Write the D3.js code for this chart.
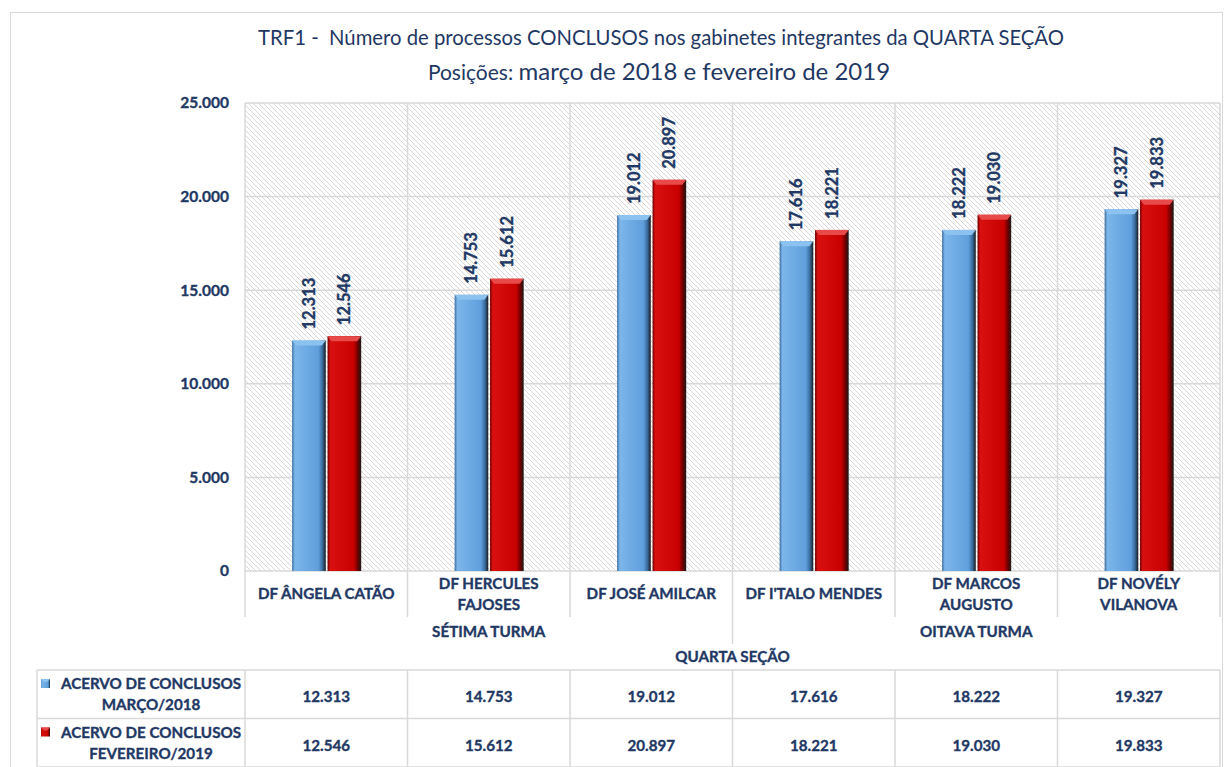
<!DOCTYPE html>
<html>
<head>
<meta charset="utf-8">
<script src="https://cdn.jsdelivr.net/npm/d3@7"></script>
<style>
  html, body { margin: 0; padding: 0; background: #fff; }
  svg { display: block; font-family: Lato, "Open Sans", sans-serif; }
  .bold { font-weight: 700; stroke-width: 0.35px; paint-order: stroke; }
</style>
</head>
<body>
<svg id="chart" width="1224" height="767"></svg>
<script>
// Gabinetes (rótulos do eixo em linhas)
const categories = ["DF ÂNGELA CATÃO", "DF HERCULES FAJOSES", "DF JOSÉ AMILCAR", "DF I'TALO MENDES", "DF MARCOS AUGUSTO", "DF NOVÉLY VILANOVA"];
const categoryLines = [["DF ÂNGELA CATÃO"], ["DF HERCULES", "FAJOSES"], ["DF JOSÉ AMILCAR"], ["DF I'TALO MENDES"], ["DF MARCOS", "AUGUSTO"], ["DF NOVÉLY", "VILANOVA"]];
const turmas = ["SÉTIMA TURMA", "OITAVA TURMA"];
const turmaSize = [3, 3];
const secao = "QUARTA SEÇÃO";

const seriesNames = ["ACERVO DE CONCLUSOS MARÇO/2018", "ACERVO DE CONCLUSOS FEVEREIRO/2019"];
const seriesLines = [["ACERVO DE CONCLUSOS", "MARÇO/2018"], ["ACERVO DE CONCLUSOS", "FEVEREIRO/2019"]];
const marco2018 = [12313, 14753, 19012, 17616, 18222, 19327];
const fevereiro2019 = [12546, 15612, 20897, 18221, 19030, 19833];
const yTicks = [0, 5000, 10000, 15000, 20000, 25000];

const locale = d3.formatLocale({ decimal: ",", thousands: ".", grouping: [3], currency: ["R$", ""] });
const fmt = locale.format(",d");

const navy = "#1f3864";
const gridColor = "#d9d9d9";

const svg = d3.select("#chart");
const defs = svg.append("defs");

// Hachura diagonal do fundo da área de plotagem
const hatch = defs.append("pattern")
  .attr("id", "hatch").attr("patternUnits", "userSpaceOnUse")
  .attr("width", 5).attr("height", 5);
hatch.append("rect").attr("width", 5).attr("height", 5).attr("fill", "#fff");
hatch.append("path").attr("d", "M0,0L5,5M-1,4L1,6M4,-1L6,1")
  .attr("stroke", "#d4d4d4").attr("stroke-width", 0.9);

// Gradientes para o efeito de bisel das barras
const palettes = [
  { id: "gBlue", light: "#7cb6ea", mid: "#5f9fdc", dark: "#3a6c9e", top: "#8cc2f0" },
  { id: "gRed", light: "#d81010", mid: "#c80000", dark: "#6e0000", top: "#e84a4a" }
];
palettes.forEach(p => {
  const g = defs.append("linearGradient").attr("id", p.id).attr("x1", 0).attr("x2", 1).attr("y1", 0).attr("y2", 0);
  g.append("stop").attr("offset", "0%").attr("stop-color", p.dark);
  g.append("stop").attr("offset", "8%").attr("stop-color", p.light);
  g.append("stop").attr("offset", "78%").attr("stop-color", p.mid);
  g.append("stop").attr("offset", "90%").attr("stop-color", p.dark);
  g.append("stop").attr("offset", "100%").attr("stop-color", "#1a1a1a");
});

// Moldura externa
svg.append("rect").attr("x", 10.5).attr("y", 12.5).attr("width", 1212).attr("height", 760)
  .attr("fill", "none").attr("stroke", "#d9d9d9");

// Título
svg.append("text").attr("fill", navy).attr("text-anchor", "middle")
  .attr("x", 661).attr("y", 45).attr("font-size", 20.3)
  .text("TRF1 -  Número de processos CONCLUSOS nos gabinetes integrantes da QUARTA SEÇÃO")
  .style("white-space", "pre");
const t2 = svg.append("text").attr("fill", navy).attr("text-anchor", "middle")
  .attr("x", 659).attr("y", 80);
t2.append("tspan").attr("font-size", 21).text("Posições: ");
t2.append("tspan").attr("font-size", 24).text("março de 2018 e fevereiro de 2019");

// Escalas
const plotLeft = 245, plotRight = 1220, plotTop = 103, plotBottom = 571;
const x0 = d3.scaleBand().domain(categories).range([plotLeft, plotRight]).padding(0);
const x1 = d3.scaleBand().domain(seriesNames)
  .range([x0.bandwidth() * 0.29, x0.bandwidth() * 0.715]).paddingInner(0.05);
const y = d3.scaleLinear().domain([0, 25000]).range([plotBottom, plotTop]);

// Fundo hachurado
svg.append("rect").attr("x", plotLeft).attr("y", plotTop)
  .attr("width", plotRight - plotLeft).attr("height", plotBottom - plotTop)
  .attr("fill", "url(#hatch)");

// Linhas de grade horizontais
svg.append("g").selectAll("line").data(yTicks).join("line")
  .attr("x1", plotLeft).attr("x2", plotRight)
  .attr("y1", d => y(d)).attr("y2", d => y(d))
  .attr("stroke", gridColor).attr("stroke-width", 1.5);

// Linhas verticais entre categorias (área e rótulos)
const bounds = categories.map(c => x0(c)).concat([plotRight]);
svg.append("g").selectAll("line").data(bounds).join("line")
  .attr("x1", d => d).attr("x2", d => d)
  .attr("y1", plotTop).attr("y2", 617)
  .attr("stroke", gridColor).attr("stroke-width", 1.5);
// separador entre turmas
svg.append("line").attr("x1", x0(categories[turmaSize[0]])).attr("x2", x0(categories[turmaSize[0]]))
  .attr("y1", 617).attr("y2", 644).attr("stroke", gridColor).attr("stroke-width", 1.5);

// Eixo Y
const yAxis = d3.axisLeft(y).tickValues(yTicks).tickFormat(d => fmt(d)).tickSize(0).tickPadding(16);
const yg = svg.append("g").attr("transform", `translate(${plotLeft},0)`).call(yAxis);
yg.select(".domain").remove();
yg.selectAll("text").attr("class", "bold").attr("fill", navy).attr("stroke", navy)
  .attr("font-size", 15.5).attr("font-family", "Lato, sans-serif");

// Barras
const seriesValues = [marco2018, fevereiro2019];
const groups = svg.append("g").selectAll("g").data(categories).join("g")
  .attr("transform", d => `translate(${x0(d)},0)`);

seriesValues.forEach((vals, si) => {
  const p = palettes[si];
  const bw = x1.bandwidth();
  const bx = x1(seriesNames[si]);
  groups.append("rect")
    .attr("x", bx).attr("width", bw)
    .attr("y", (d, i) => y(vals[i]))
    .attr("height", (d, i) => y(0) - y(vals[i]))
    .attr("fill", `url(#${p.id})`);
  // bisel superior
  groups.append("path")
    .attr("d", (d, i) => {
      const t = y(vals[i]);
      return `M${bx},${t}L${bx + bw},${t}L${bx + bw - 4},${t + 5}L${bx + 4},${t + 5}Z`;
    })
    .attr("fill", p.top);
  // rótulos de valor
  groups.append("text")
    .attr("class", "bold")
    .attr("transform", (d, i) => `translate(${bx + bw / 2 + 6},${y(vals[i]) - 11}) rotate(-90)`)
    .attr("fill", navy).attr("stroke", navy).attr("font-size", 16.5)
    .text((d, i) => fmt(vals[i]));
});

// Rótulos das categorias
groups.each(function (d, i) {
  const lines = categoryLines[i];
  const g = d3.select(this);
  const cx = x0.bandwidth() / 2;
  const y0 = lines.length === 1 ? 599 : 589;
  lines.forEach((ln, k) => {
    g.append("text").attr("class", "bold").attr("x", cx).attr("y", y0 + k * 21)
      .attr("text-anchor", "middle").attr("fill", navy).attr("stroke", navy)
      .attr("font-size", 15.2).text(ln);
  });
});

// Turmas e seção
let start = 0;
turmas.forEach((t, i) => {
  const a = x0(categories[start]);
  const b = x0(categories[start + turmaSize[i] - 1]) + x0.bandwidth();
  svg.append("text").attr("class", "bold").attr("x", (a + b) / 2).attr("y", 637).attr("text-anchor", "middle")
    .attr("fill", navy).attr("stroke", navy).attr("font-size", 15.2).text(t);
  start += turmaSize[i];
});
svg.append("text").attr("class", "bold").attr("x", (plotLeft + plotRight) / 2).attr("y", 662).attr("text-anchor", "middle")
  .attr("fill", navy).attr("stroke", navy).attr("font-size", 15.2).text(secao);

// Tabela de dados
const tableLeft = 37, rowTop = 670, rowH = 48.5;
const table = svg.append("g");
[0, 1, 2].forEach(r => {
  table.append("line").attr("x1", tableLeft).attr("x2", plotRight)
    .attr("y1", rowTop + r * rowH).attr("y2", rowTop + r * rowH)
    .attr("stroke", gridColor).attr("stroke-width", 1.5);
});
[tableLeft].concat(bounds).forEach(xv => {
  table.append("line").attr("x1", xv).attr("x2", xv)
    .attr("y1", rowTop).attr("y2", 767)
    .attr("stroke", gridColor).attr("stroke-width", 1.5);
});

seriesValues.forEach((vals, si) => {
  const p = palettes[si];
  const ry = rowTop + si * rowH;
  // marcador da legenda
  table.append("rect").attr("x", 41).attr("y", ry + 9).attr("width", 9).attr("height", 9)
    .attr("fill", `url(#${p.id})`);
  table.append("path")
    .attr("d", `M41,${ry + 9}L50,${ry + 9}L47,${ry + 12}L44,${ry + 12}Z`).attr("fill", p.top);
  seriesLines[si].forEach((ln, k) => {
    table.append("text").attr("class", "bold").attr("x", 151).attr("y", ry + 19 + k * 21).attr("text-anchor", "middle")
      .attr("fill", navy).attr("stroke", navy).attr("font-size", 15.2).text(ln);
  });
  vals.forEach((v, i) => {
    table.append("text").attr("class", "bold").attr("x", x0(categories[i]) + x0.bandwidth() / 2).attr("y", ry + 32)
      .attr("text-anchor", "middle").attr("fill", navy).attr("stroke", navy)
      .attr("font-size", 15.2).text(fmt(v));
  });
});
</script>
</body>
</html>
